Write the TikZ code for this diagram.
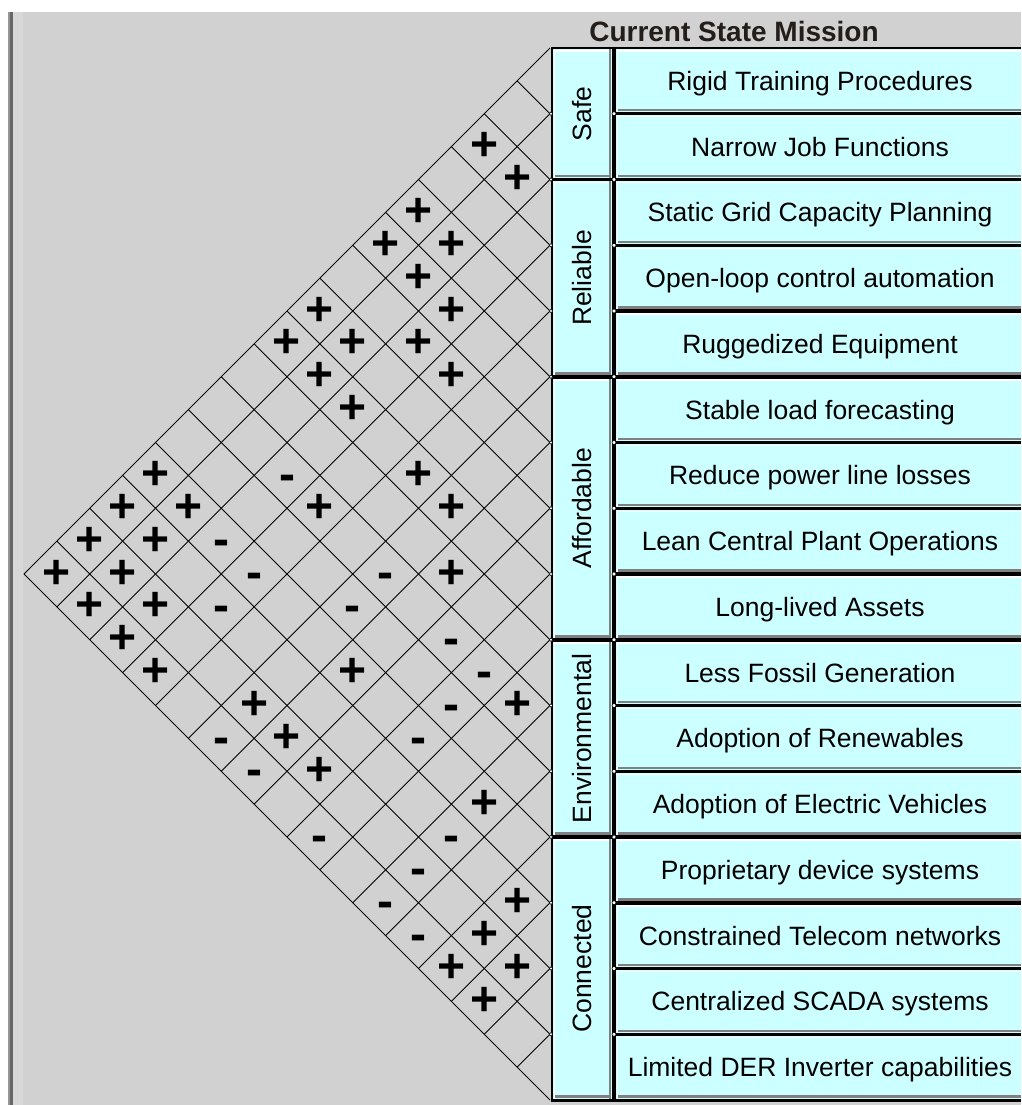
\documentclass[tikz,border=0pt]{standalone}
\usepackage{fontspec}
\setmainfont{Liberation Sans}
\definecolor{bggray}{RGB}{209,209,209}
\definecolor{boxcyan}{RGB}{204,255,255}
\definecolor{shadowgray}{RGB}{128,128,128}
\definecolor{edgedark}{RGB}{105,105,105}
\definecolor{edgemid}{RGB}{150,150,150}
\definecolor{edgelight}{RGB}{216,216,216}
\definecolor{titleink}{RGB}{35,30,25}
\begin{document}
\begin{tikzpicture}[x=1pt,y=-1pt,
  rowtext/.style={font=\fontsize{26.5}{30}\selectfont, text=black, anchor=base, inner sep=0pt},
  grouptext/.style={font=\fontsize{26.5}{30}\selectfont, text=black, rotate=90, anchor=center, inner sep=0pt},
  pl/.style={font=\fontsize{48}{50}\selectfont\bfseries, text=black, inner sep=0pt, anchor=center},
  mn/.style={pl, yshift=-7pt},
  gridline/.style={line width=1pt, black},
  blackedge/.style={line width=3.5pt, black},
  shadowedge/.style={line width=2.5pt, shadowgray},
  lightedge/.style={line width=1.5pt, white},
  junction/.style={fill=white, draw=black, line width=0.6pt}]
\useasboundingbox (0,0) rectangle (1021,1105);
% background
\fill[white] (0,0) rectangle (1021,1105);
\fill[bggray] (8,12) rectangle (1021,1105);
\fill[edgemid] (8,12) rectangle (10,1105);
\fill[edgedark] (10,12) rectangle (13,1105);
\fill[edgelight] (13,12) rectangle (23,1105);
% title
\node[font=\fontsize{28}{30}\selectfont\bfseries, text=titleink, anchor=base, inner sep=0pt] (title) at (734,42) {Current State Mission};
% correlation grid
\foreach \k in {0,...,16}{
  \pgfmathsetmacro{\yk}{48+\k*65.75}
  \pgfmathsetmacro{\ux}{550-\k*32.875}
  \pgfmathsetmacro{\uy}{48+\k*32.875}
  \pgfmathsetmacro{\lx}{550-(16-\k)*32.875}
  \pgfmathsetmacro{\ly}{\yk+(16-\k)*32.875}
  \draw[gridline] (550,\yk) -- (\ux,\uy);
  \draw[gridline] (550,\yk) -- (\lx,\ly);
}
% plus marks
\foreach \i/\j in {1/3,2/3,1/5,1/6,2/5,2/6,1/8,3/6,1/9,2/8,3/7,2/9,4/7,3/9,5/9,4/11,6/9,1/13,1/14,2/13,1/15,2/14,1/16,2/15,2/16,3/15,3/16,4/16,6/15,7/10,7/13,10/11,7/15,8/15,11/13,13/14,13/15,13/16,14/15,14/16}{
  \pgfmathsetmacro{\cx}{550-(\j-\i)*32.875}
  \pgfmathsetmacro{\cy}{48+(\i+\j-1)*32.875}
  \node[pl] (p-\i-\j) at (\cx,\cy) {+};
}
% minus marks
\foreach \i/\j in {3/11,3/13,4/13,4/14,6/11,6/12,8/11,9/11,9/12,9/13,7/16,6/16,9/16,11/14,11/15,11/16,12/16}{
  \pgfmathsetmacro{\cx}{550-(\j-\i)*32.875}
  \pgfmathsetmacro{\cy}{48+(\i+\j-1)*32.875}
  \node[mn] (m-\i-\j) at (\cx,\cy) {-};
}
% panel fill
\fill[boxcyan] (552,48) rectangle (1021,1100);
% highlights and shadows of the row buttons
\foreach \k in {1,...,16}{
  \pgfmathsetmacro{\yt}{48+(\k-1)*65.75}
  \pgfmathsetmacro{\yb}{48+\k*65.75}
  \draw[lightedge] (617,\yt+3) -- (1021,\yt+3);
  \draw[shadowedge] (617,\yb-3.5) -- (1021,\yb-3.5);
}
\draw[lightedge] (617.5,48) -- (617.5,1100);
% group buttons
\foreach \a/\b in {0/2,2/5,5/9,9/12,12/16}{
  \pgfmathsetmacro{\yt}{48+\a*65.75}
  \pgfmathsetmacro{\yb}{48+\b*65.75}
  \draw[lightedge] (554,\yt+3) -- (610,\yt+3);
  \draw[shadowedge] (554,\yb-3.5) -- (611,\yb-3.5);
}
\draw[lightedge] (554.5,48) -- (554.5,1100);
\draw[shadowedge] (610,48) -- (610,1100);
% black edges
\foreach \k in {1,3,4,6,7,8,10,11,13,14,15}{
  \pgfmathsetmacro{\yk}{48+\k*65.75}
  \draw[blackedge] (614,\yk) -- (1021,\yk);
}
\foreach \k in {2,5,9,12}{
  \pgfmathsetmacro{\yk}{48+\k*65.75}
  \draw[blackedge] (551,\yk) -- (1021,\yk);
}
\draw[line width=2pt, black] (551,48) -- (1021,48);
\draw[line width=3pt, black] (551,1100) -- (1021,1100);
\draw[line width=1.5pt, black] (552,48) -- (552,1100);
\draw[blackedge] (614,48) -- (614,1100);
\foreach \k in {1,...,15}{
  \pgfmathsetmacro{\yk}{48+\k*65.75}
  \filldraw[junction] (614,\yk) circle (2);
  \filldraw[junction] (551,\yk) circle (1.8);
}
% row labels
\foreach \k/\t in {1/Rigid Training Procedures,2/Narrow Job Functions,3/Static Grid Capacity Planning,4/Open-loop control automation,5/Ruggedized Equipment,6/Stable load forecasting,7/Reduce power line losses,8/Lean Central Plant Operations,9/Long-lived Assets,10/Less Fossil Generation,11/Adoption of Renewables,12/Adoption of Electric Vehicles,13/Proprietary device systems,14/Constrained Telecom networks,15/Centralized SCADA systems,16/Limited DER Inverter capabilities}{
  \pgfmathsetmacro{\yc}{48+(\k-0.5)*65.75+9.5}
  \node[rowtext] (r\k) at (820,\yc) {\t};
}
% group labels
\node[grouptext] (g1) at (582,113.75) {Safe};
\node[grouptext] (g2) at (582,278.1) {Reliable};
\node[grouptext] (g3) at (582,508.25) {Affordable};
\node[grouptext] (g4) at (582,738.4) {Environmental};
\node[grouptext] (g5) at (582,968.5) {Connected};
\end{tikzpicture}
\end{document}
